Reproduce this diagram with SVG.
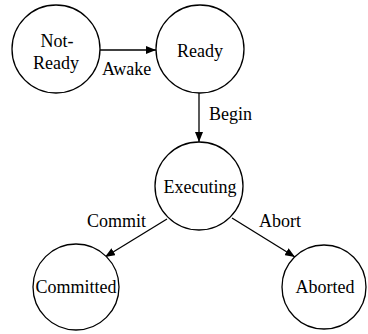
<svg xmlns="http://www.w3.org/2000/svg" width="368" height="334" viewBox="0 0 368 334" font-family="Liberation Serif, serif">
<style>
.n{fill:#fff;stroke:#000;stroke-width:1.3}
.t{font-size:18px;fill:#000}
.c{text-anchor:middle}
.e{stroke:#000;stroke-width:1.3;fill:none}
</style>
<defs>
<marker id="ah" viewBox="0 0 10 8" refX="10" refY="4" markerWidth="10" markerHeight="8" markerUnits="userSpaceOnUse" orient="auto">
<path d="M0,0 L10,4 L0,8 Z" fill="#000"/>
</marker>
</defs>
<rect width="368" height="334" fill="#fff"/>
<g id="connectors">
<line class="e" x1="100" y1="50" x2="156" y2="50" marker-end="url(#ah)"/>
<line class="e" x1="199" y1="93" x2="199" y2="142" marker-end="url(#ah)"/>
<line class="e" x1="167" y1="219" x2="105" y2="257" marker-end="url(#ah)"/>
<line class="e" x1="232" y1="218" x2="295" y2="257" marker-end="url(#ah)"/>
<text class="t" x="102" y="75" font-family="Liberation Serif, serif">Awake</text>
<text class="t" x="209" y="120" font-family="Liberation Serif, serif">Begin</text>
<text class="t" x="87" y="227" font-family="Liberation Serif, serif">Commit</text>
<text class="t" x="259" y="227" font-family="Liberation Serif, serif">Abort</text>
</g>
<g id="not-ready" font-family="Liberation Serif, serif">
<circle class="n" cx="56" cy="49" r="44"/>
<text class="t c" x="57" y="47">Not-</text>
<text class="t c" x="56" y="69">Ready</text>
</g>
<g id="ready" font-family="Liberation Serif, serif">
<circle class="n" cx="200" cy="49" r="44"/>
<text class="t c" x="200" y="57">Ready</text>
</g>
<g id="executing" font-family="Liberation Serif, serif">
<circle class="n" cx="199" cy="186" r="44"/>
<text class="t c" x="200" y="193">Executing</text>
</g>
<g id="committed" font-family="Liberation Serif, serif">
<circle class="n" cx="76" cy="287" r="43"/>
<text class="t c" x="76" y="293">Committed</text>
</g>
<g id="aborted" font-family="Liberation Serif, serif">
<circle class="n" cx="324" cy="287" r="42"/>
<text class="t c" x="325" y="293">Aborted</text>
</g>
</svg>
